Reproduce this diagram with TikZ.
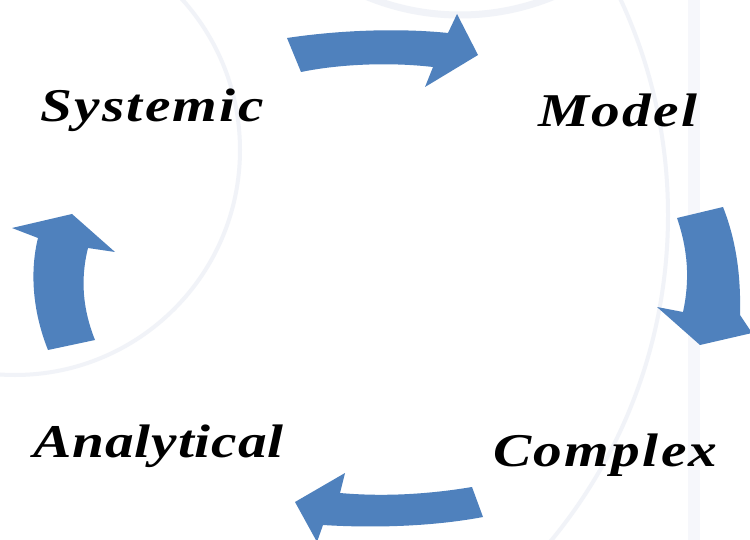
\documentclass[tikz,border=0pt]{standalone}
\usepackage{fontspec}
\setmainfont{Liberation Serif}
\newfontfamily\lblfont[FakeStretch=1.22,LetterSpace=5]{Liberation Serif}
\newfontfamily\lblfontnarrow[FakeStretch=1.22,LetterSpace=2]{Liberation Serif}
\definecolor{arrowblue}{HTML}{4F81BD}
\definecolor{faint}{HTML}{F1F3F8}
\definecolor{faintband}{HTML}{F6F7FB}
\tikzset{
  label text/.style={anchor=base west, inner sep=0pt, font=\lblfont\bfseries\itshape\fontsize{47}{52}\selectfont, text=black},
  narrow label/.style={label text, font=\lblfontnarrow\bfseries\itshape\fontsize{47}{52}\selectfont},
  blockarrow/.style={fill=arrowblue, draw=none},
  bgline/.style={draw=faint, line width=4pt}
}
\begin{document}
\begin{tikzpicture}[x=1pt,y=-1pt]
\useasboundingbox (0,0) rectangle (750,540);
\fill[white] (0,0) rectangle (750,540);
% faint background decoration
\fill[faintband] (688,0) rectangle (700,540);
\begin{scope}
\clip (0,0) rectangle (750,540);
\draw[bgline] (15,150) circle (225);
\draw[bgline, line width=7pt] (460,-230) circle (245);
\draw[bgline] (156,215) circle (512);
\end{scope}
% labels
\node[label text] (systemic) at (40,122) {Systemic};
\node[label text] (model) at (538,127) {Model};
\node[narrow label] (analytical) at (33,457) {Analytical};
\node[label text] (complex) at (493,466) {Complex};
% block arrows
\fill[blockarrow] (287,38) .. controls (340,30) and (400,28) .. (448,33)
  -- (457,14) -- (478,55) -- (425,87) -- (433,67)
  .. controls (390,62) and (340,64) .. (301,72) -- cycle;
\fill[blockarrow] (677,218) -- (723,207) .. controls (736,240) and (741,275) .. (740,315)
  -- (752,333) -- (700,345) -- (657,307) -- (683,312)
  .. controls (690,280) and (688,250) .. (677,218) -- cycle;
\fill[blockarrow] (472,487) -- (483,517) .. controls (430,527) and (370,528) .. (323,525)
  -- (317,542) -- (295,502) -- (345,473) -- (340,493)
  .. controls (385,497) and (430,494) .. (472,487) -- cycle;
\fill[blockarrow] (48,350) .. controls (32,310) and (30,270) .. (38,238)
  -- (12,228) -- (72,214) -- (115,252) -- (88,248)
  .. controls (80,280) and (83,310) .. (95,340) -- cycle;
\end{tikzpicture}
\end{document}
